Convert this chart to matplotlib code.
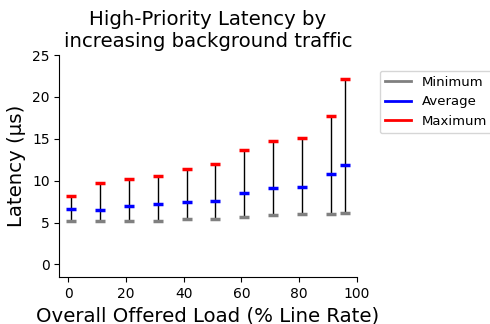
import matplotlib
matplotlib.use("Agg")
import matplotlib.pyplot as plt
from matplotlib.lines import Line2D

# offered load (% line rate) and latency stats (us)
load = [1, 11, 21, 31, 41, 51, 61, 71, 81, 91, 96]
lat_min = [5.23, 5.14, 5.18, 5.23, 5.42, 5.47, 5.71, 5.94, 6.06, 5.98, 6.18]
lat_avg = [6.66, 6.54, 7.02, 7.26, 7.50, 7.62, 8.58, 9.17, 9.29, 10.77, 11.88]
lat_max = [8.22, 9.77, 10.25, 10.61, 11.45, 12.0, 13.72, 14.71, 15.04, 17.7, 22.2]

fig = plt.figure(figsize=(4.9, 3.24), dpi=100)
ax = fig.add_axes([0.121, 0.145, 0.607, 0.685])

ax.vlines(load, lat_min, lat_max, color="black", linewidth=1)
ms, mew = 7, 2.5
ax.plot(load, lat_min, "_", color="gray", markersize=ms, markeredgewidth=mew)
ax.plot(load, lat_avg, "_", color="blue", markersize=ms, markeredgewidth=mew)
ax.plot(load, lat_max, "_", color="red", markersize=ms, markeredgewidth=mew)

ax.set_xlim(-3.1, 100)
ax.set_ylim(-1.5, 25)
ax.set_xticks([0, 20, 40, 60, 80, 100])
ax.set_yticks([0, 5, 10, 15, 20, 25])
ax.spines["top"].set_visible(False)
ax.spines["right"].set_visible(False)

ax.set_title("High-Priority Latency by\nincreasing background traffic", fontsize=14.2)
ax.set_xlabel("Overall Offered Load (% Line Rate)", fontsize=14.2)
ax.set_ylabel("Latency (μs)", fontsize=14.2)

handles = [Line2D([], [], color="gray", lw=2),
           Line2D([], [], color="blue", lw=2),
           Line2D([], [], color="red", lw=2)]
ax.legend(handles, ["Minimum", "Average", "Maximum"], loc="upper left",
          bbox_to_anchor=(1.055, 0.96), fontsize=9.5)

fig.savefig("out.png", dpi=100)
